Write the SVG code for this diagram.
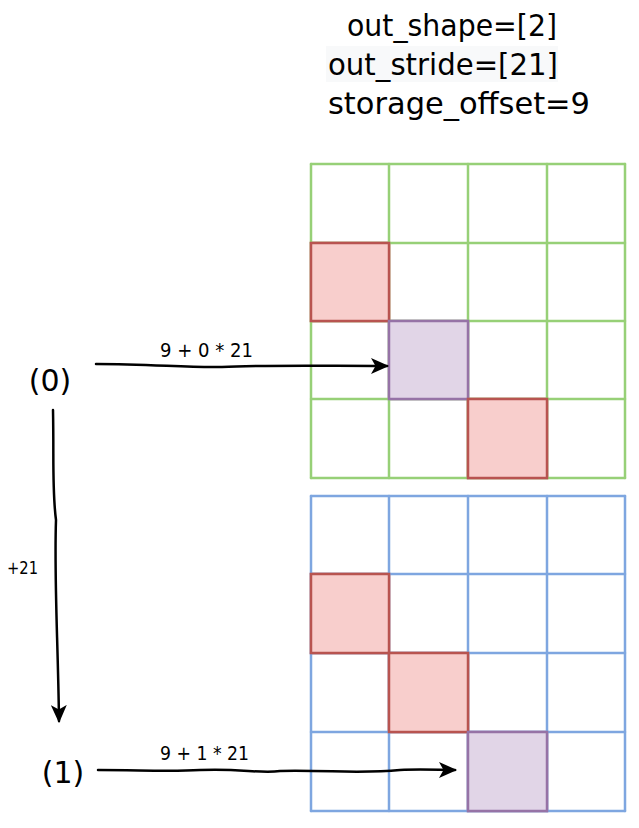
<svg xmlns="http://www.w3.org/2000/svg" width="639" height="828" viewBox="0 0 639 828">
<style>
  .t { font-family: "DejaVu Sans", "Liberation Sans", sans-serif; fill: #000; }
  .big { font-size: 30px; }
  .node { font-size: 30px; }
  .mid { font-size: 19px; }
  .sm { font-size: 18px; }
  .g line { stroke: #97D077; stroke-width: 2.5; fill: none; stroke-linecap: round; }
  .b line { stroke: #7EA6E0; stroke-width: 2.5; fill: none; stroke-linecap: round; }
  .red { fill: #F8CECC; stroke: #B85450; stroke-width: 2.5; }
  .pur { fill: #E1D5E7; stroke: #9673A6; stroke-width: 2.5; }
  .conn path { stroke: #000; stroke-width: 2.5; fill: none; stroke-linecap: round; }
</style>
<defs>
  <marker id="ah" viewBox="0 0 18 16" refX="16" refY="8" markerWidth="18" markerHeight="16" markerUnits="userSpaceOnUse" orient="auto">
    <path d="M0,0 L18,8 L0,16 L4.5,8 Z" fill="#000"/>
  </marker>
</defs>
<rect width="639" height="828" fill="#fff"/>

<g id="info">
  <text class="t big" x="347" y="36" textLength="210" lengthAdjust="spacingAndGlyphs">out_shape=[2]</text>
  <rect x="326" y="46" width="232" height="36" fill="#F8F9FA"/>
  <text class="t big" x="328" y="75" textLength="230" lengthAdjust="spacingAndGlyphs">out_stride=[21]</text>
  <text class="t big" x="328" y="114" textLength="262" lengthAdjust="spacingAndGlyphs">storage_offset=9</text>
</g>

<g id="grid-top">
  <rect class="red" x="311" y="243" width="78" height="78"/>
  <rect class="pur" x="389" y="321" width="79" height="78"/>
  <rect class="red" x="468" y="399" width="79" height="79"/>
  <g class="g">
    <line x1="311" y1="164" x2="311" y2="478"/>
    <line x1="389" y1="164" x2="389" y2="478"/>
    <line x1="468" y1="164" x2="468" y2="478"/>
    <line x1="547" y1="164" x2="547" y2="478"/>
    <line x1="625" y1="164" x2="625" y2="478"/>
    <line x1="311" y1="164" x2="625" y2="164"/>
    <line x1="311" y1="243" x2="625" y2="243"/>
    <line x1="311" y1="321" x2="625" y2="321"/>
    <line x1="311" y1="399" x2="625" y2="399"/>
    <line x1="311" y1="478" x2="625" y2="478"/>
  </g>
  <rect class="red" x="311" y="243" width="78" height="78" fill="none"/>
  <rect class="pur" x="389" y="321" width="79" height="78" fill="none"/>
  <rect class="red" x="468" y="399" width="79" height="79" fill="none"/>
</g>

<g id="grid-bottom">
  <rect class="red" x="311" y="574" width="78" height="79"/>
  <rect class="red" x="389" y="653" width="79" height="79"/>
  <rect class="pur" x="468" y="732" width="79" height="79"/>
  <g class="b">
    <line x1="311" y1="496" x2="311" y2="811"/>
    <line x1="389" y1="496" x2="389" y2="811"/>
    <line x1="468" y1="496" x2="468" y2="811"/>
    <line x1="547" y1="496" x2="547" y2="811"/>
    <line x1="625" y1="496" x2="625" y2="811"/>
    <line x1="311" y1="496" x2="625" y2="496"/>
    <line x1="311" y1="574" x2="625" y2="574"/>
    <line x1="311" y1="653" x2="625" y2="653"/>
    <line x1="311" y1="732" x2="625" y2="732"/>
    <line x1="311" y1="811" x2="625" y2="811"/>
  </g>
  <rect class="red" x="311" y="574" width="78" height="79" fill="none"/>
  <rect class="red" x="389" y="653" width="79" height="79" fill="none"/>
  <rect class="pur" x="468" y="732" width="79" height="79" fill="none"/>
</g>

<g id="node0">
  <text class="t node" x="50" y="391" text-anchor="middle">(0)</text>
</g>
<g id="node1">
  <text class="t node" x="63" y="783" text-anchor="middle">(1)</text>
</g>

<g class="conn" id="connectors">
  <path d="M96,364 C150,364 190,368 222,367 C260,365 320,366 387,366" marker-end="url(#ah)"/>
  <path d="M53,410 C54,460 52,490 56,520 C54,580 58,640 59,721" marker-end="url(#ah)"/>
  <path d="M98,770 C140,770 170,772 200,770 C240,768 260,774 280,771 C330,770 360,774 400,770 C420,769 440,770 455,770" marker-end="url(#ah)"/>
  <text class="t mid" x="160" y="357" textLength="93" lengthAdjust="spacingAndGlyphs">9 + 0 * 21</text>
  <text class="t mid" x="160" y="760" textLength="89" lengthAdjust="spacingAndGlyphs">9 + 1 * 21</text>
  <text class="t sm" x="7" y="574" textLength="31" lengthAdjust="spacingAndGlyphs">+21</text>
</g>
</svg>
